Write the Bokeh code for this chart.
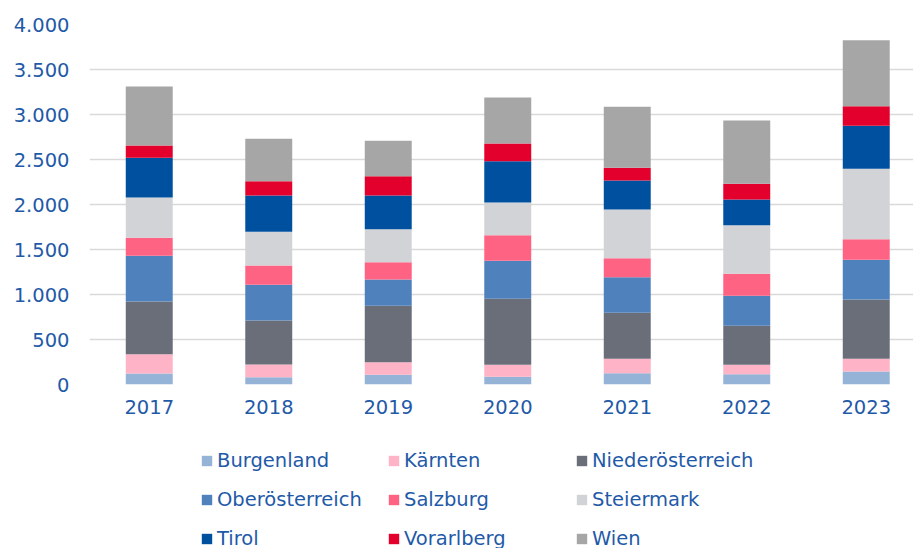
from bokeh.plotting import figure
from bokeh.layouts import column
from bokeh.models import ColumnDataSource, Range1d, FixedTicker, Legend, LegendItem
from bokeh.embed import file_html
from bokeh.resources import INLINE

years = ["2017", "2018", "2019", "2020", "2021", "2022", "2023"]
regions = ["Burgenland", "Kärnten", "Niederösterreich", "Oberösterreich", "Salzburg",
           "Steiermark", "Tirol", "Vorarlberg", "Wien"]
burgenland = [122, 81, 107, 85, 126, 115, 144]
kaernten = [215, 141, 141, 134, 159, 104, 141]
niederoesterreich = [585, 489, 626, 733, 511, 433, 659]
oberoesterreich = [508, 396, 293, 422, 397, 333, 441]
salzburg = [200, 215, 192, 285, 211, 245, 230]
steiermark = [448, 374, 367, 363, 540, 540, 781]
tirol = [441, 404, 374, 459, 323, 286, 478]
vorarlberg = [137, 159, 215, 197, 140, 174, 219]
wien = [655, 471, 392, 511, 678, 703, 733]
colors = ["#95B3D7", "#FFB3C6", "#6A6E79", "#4F81BD", "#FF6384",
          "#D2D3D7", "#0050A0", "#E4002C", "#A6A6A6"]
y_ticks = [0, 500, 1000, 1500, 2000, 2500, 3000, 3500, 4000]
y_tick_labels = ["0", "500", "1.000", "1.500", "2.000", "2.500", "3.000", "3.500", "4.000"]

series = [burgenland, kaernten, niederoesterreich, oberoesterreich, salzburg,
          steiermark, tirol, vorarlberg, wien]
keys = ["s%d" % i for i in range(len(regions))]
data = {"x": list(range(len(years)))}
for k, s in zip(keys, series):
    data[k] = s
source = ColumnDataSource(data)

TEXT = "#1F5AA8"
FONT = "DejaVu Sans"
FS = "19.5px"
BAR_W = 0.393

# ---- main chart ----
p = figure(width=913, height=430, output_backend="svg", toolbar_location=None,
           x_range=Range1d(-0.5, -0.5 + 824 / 119.5), y_range=Range1d(0, 4000),
           min_border_left=89, min_border_right=0, min_border_top=24, min_border_bottom=46)
p.outline_line_color = None
p.background_fill_color = "white"
p.border_fill_color = "white"

p.vbar_stack(keys, x="x", width=BAR_W, source=source, color=colors, line_color=None)

p.xgrid.grid_line_color = None
p.ygrid.grid_line_color = "#D9D9D9"
p.ygrid.grid_line_width = 1.5
p.ygrid.ticker = FixedTicker(ticks=y_ticks)

p.yaxis.ticker = FixedTicker(ticks=y_ticks)
p.yaxis.major_label_overrides = {t: l for t, l in zip(y_ticks, y_tick_labels)}
p.xaxis.ticker = FixedTicker(ticks=list(range(len(years))))
p.xaxis.major_label_overrides = {i: y for i, y in enumerate(years)}
for ax in (p.xaxis, p.yaxis):
    ax.axis_line_color = None
    ax.major_tick_line_color = None
    ax.minor_tick_line_color = None
    ax.major_tick_out = 0
    ax.major_tick_in = 0
    ax.minor_tick_out = 0
    ax.major_label_text_color = TEXT
    ax.major_label_text_font = FONT
    ax.major_label_text_font_size = FS
p.yaxis.major_label_standoff = 20
p.xaxis.major_label_standoff = 15

# ---- legend panel (same series as legend keys; bars lie outside its visible range) ----
q = figure(width=913, height=118, output_backend="svg", toolbar_location=None,
           x_range=Range1d(-0.5, -0.5 + 824 / 119.5), y_range=Range1d(5000, 6000),
           x_axis_location=None, y_axis_location=None,
           min_border_left=89, min_border_right=0, min_border_top=0, min_border_bottom=0)
q.outline_line_color = None
q.xgrid.grid_line_color = None
q.ygrid.grid_line_color = None
q.background_fill_color = "white"
q.border_fill_color = "white"
leg_renderers = q.vbar_stack(keys, x="x", width=BAR_W, source=source, color=colors,
                             line_color=None)

col_x = [111, 298, 486]
for c in range(3):
    items = [LegendItem(label=regions[r * 3 + c], renderers=[leg_renderers[r * 3 + c]])
             for r in range(3)]
    lg = Legend(items=items, location=(col_x[c], -5), orientation="vertical",
                glyph_width=13, glyph_height=13, label_height=30,
                label_standoff=4, spacing=9, padding=0, margin=0, border_line_color=None,
                background_fill_alpha=0, label_text_color=TEXT, label_text_font=FONT,
                label_text_font_size=FS)
    q.add_layout(lg, "center")

layout = column(p, q, spacing=0)
open("out.html", "w").write(file_html(layout, INLINE))
